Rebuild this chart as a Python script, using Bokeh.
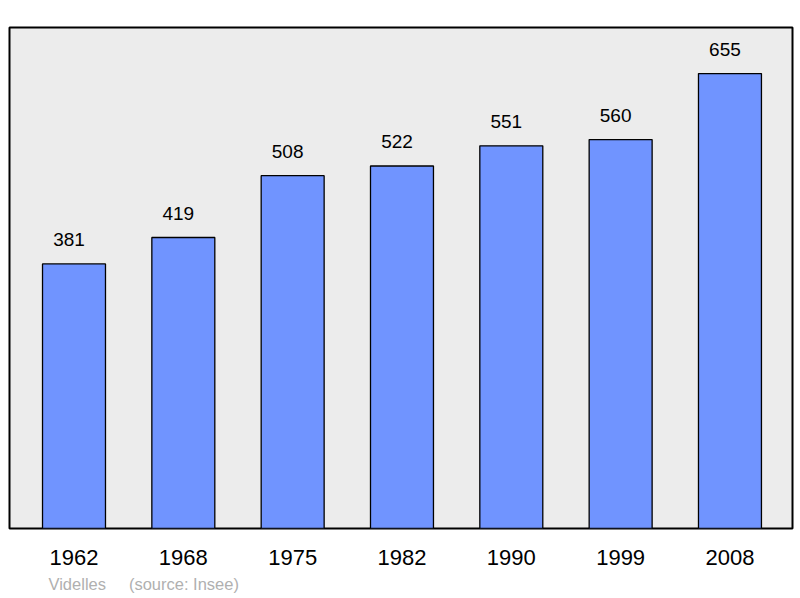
from bokeh.plotting import figure
from bokeh.models import ColumnDataSource, FixedTicker, Title, Range1d
from bokeh.core.properties import value
from bokeh.embed import file_html
from bokeh.resources import INLINE

years = ["1962", "1968", "1975", "1982", "1990", "1999", "2008"]
population = [381, 419, 508, 522, 551, 560, 655]
town = "Videlles"
source_note = "(source: Insee)"

xs = list(range(len(years)))
src = ColumnDataSource(dict(x=xs, top=population, label=[str(v) for v in population]))

p = figure(width=800, height=598, output_backend="svg", toolbar_location=None,
           x_range=Range1d(-0.59, 6.572), y_range=Range1d(0, 721.4),
           min_border_left=9, min_border_right=8, min_border_top=27, min_border_bottom=70)
p.background_fill_color = "#ececec"
p.border_fill_color = "white"
p.outline_line_color = "black"
p.outline_line_width = 2
p.grid.visible = False
p.yaxis.visible = False

p.vbar(x="x", top="top", bottom=0, width=0.576, source=src,
       fill_color="#7094ff", line_color="black", line_width=1.3)
p.text(x="x", y="top", text="label", source=src, text_align="center",
       text_baseline="alphabetic", x_offset=-5, y_offset=-24,
       text_font=value("Liberation Sans"), text_font_size="19px", text_color="black")

ax = p.xaxis[0]
ax.ticker = FixedTicker(ticks=xs)
ax.major_label_overrides = {i: y for i, y in enumerate(years)}
ax.axis_line_color = None
ax.major_tick_line_color = None
ax.minor_tick_line_color = None
ax.major_label_text_font = "Liberation Sans"
ax.major_label_text_font_size = "22px"
ax.major_label_text_color = "black"
ax.major_label_standoff = 15

spacer = Title(text="\u00a0", text_font_size="3px", standoff=0)
p.add_layout(spacer, "below")
foot = Title(text=town + " \u00a0\u00a0\u00a0\u00a0" + source_note, align="left",
             text_color="#b0b0b0", text_font="Liberation Sans", text_font_size="16.5px",
             text_font_style="normal", offset=39, standoff=0)
p.add_layout(foot, "below")

open("out.html", "w").write(file_html(p, INLINE))
